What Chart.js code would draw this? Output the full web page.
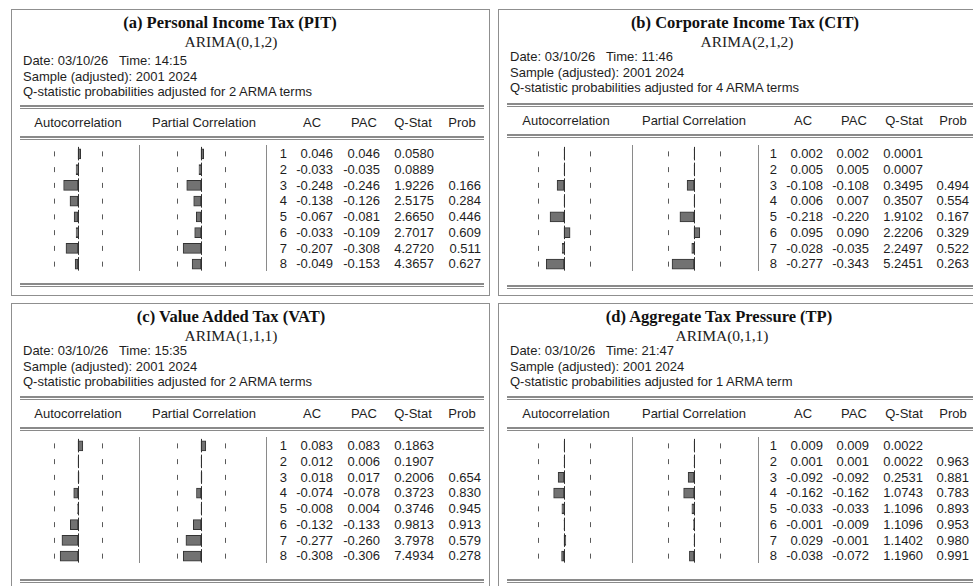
<!DOCTYPE html>
<html>
<head>
<meta charset="utf-8">
<script src="https://cdn.jsdelivr.net/npm/chart.js@4.4.1/dist/chart.umd.min.js"></script>
<style>
  body { margin: 0; background: #fff; width: 973px; height: 586px; overflow: hidden; position: relative;
         font-family: "Liberation Sans", Arial, sans-serif; color: #1e1e1e; }
  .panel { position: absolute; border: 1px solid #8f8f8f; box-sizing: border-box; overflow: hidden; }
  .t { position: absolute; line-height: 16px; height: 16px; white-space: pre; font-size: 13px; }
  .title { font-family: "Liberation Serif", "Times New Roman", serif; font-weight: bold; font-size: 16.5px; color: #111; }
  .model { font-family: "Liberation Serif", "Times New Roman", serif; font-size: 15.5px; color: #222; }
  .dbl { position: absolute; height: 1px; border-top: 2px solid #8a8a8a; border-bottom: 1px solid #8a8a8a; }
  .sep { position: absolute; width: 1px; background: #8a8a8a; }
  canvas { position: absolute; }
</style>
</head>
<body>
<script>
// lags shown in each correlogram
var lags = [1, 2, 3, 4, 5, 6, 7, 8];
var nObs = 24;

// (a) PIT
var pitAC = [0.046, -0.033, -0.248, -0.138, -0.067, -0.033, -0.207, -0.049];
var pitPAC = [0.046, -0.035, -0.246, -0.126, -0.081, -0.109, -0.308, -0.153];
var pitQ = [0.0580, 0.0889, 1.9226, 2.5175, 2.6650, 2.7017, 4.2720, 4.3657];
var pitProb = [null, null, 0.166, 0.284, 0.446, 0.609, 0.511, 0.627];

// (b) CIT
var citAC = [0.002, 0.005, -0.108, 0.006, -0.218, 0.095, -0.028, -0.277];
var citPAC = [0.002, 0.005, -0.108, 0.007, -0.220, 0.090, -0.035, -0.343];
var citQ = [0.0001, 0.0007, 0.3495, 0.3507, 1.9102, 2.2206, 2.2497, 5.2451];
var citProb = [null, null, 0.494, 0.554, 0.167, 0.329, 0.522, 0.263];

// (c) VAT
var vatAC = [0.083, 0.012, 0.018, -0.074, -0.008, -0.132, -0.277, -0.308];
var vatPAC = [0.083, 0.006, 0.017, -0.078, 0.004, -0.133, -0.260, -0.306];
var vatQ = [0.1863, 0.1907, 0.2006, 0.3723, 0.3746, 0.9813, 3.7978, 7.4934];
var vatProb = [null, null, 0.654, 0.830, 0.945, 0.913, 0.579, 0.278];

// (d) TP
var tpAC = [0.009, 0.001, -0.092, -0.162, -0.033, -0.001, 0.029, -0.038];
var tpPAC = [0.009, 0.001, -0.092, -0.162, -0.033, -0.009, -0.001, -0.072];
var tpQ = [0.0022, 0.0022, 0.2531, 1.0743, 1.1096, 1.1096, 1.1402, 1.1960];
var tpProb = [null, 0.963, 0.881, 0.783, 0.893, 0.953, 0.980, 0.991];

var panelTitles = ['(a) Personal Income Tax (PIT)', '(b) Corporate Income Tax (CIT)',
                   '(c) Value Added Tax (VAT)', '(d) Aggregate Tax Pressure (TP)'];
var models = ['ARIMA(0,1,2)', 'ARIMA(2,1,2)', 'ARIMA(1,1,1)', 'ARIMA(0,1,1)'];
var runDate = '03/10/26';
var runTimes = ['14:15', '11:46', '15:35', '21:47'];
var sampleRange = '2001 2024';
var armaTerms = [2, 4, 2, 1];
var headers = ['Autocorrelation', 'Partial Correlation', 'AC', 'PAC', 'Q-Stat', 'Prob'];

var series = [
  [pitAC, pitPAC, pitQ, pitProb],
  [citAC, citPAC, citQ, citProb],
  [vatAC, vatPAC, vatQ, vatProb],
  [tpAC, tpPAC, tpQ, tpProb]
];

// column layout (px from panel's left edge)
var colLeft = { zeroAC: 66, zeroPAC: 189, scale: 58, seps: [127, 254], lagR: 275, acR: 321, pacR: 368, qR: 422, probR: 469,
                hdr: [66, 192, 300, 352, 401, 450], lineEnd: 472 };
var colRight = { zeroAC: 65, zeroPAC: 195, scale: 64, seps: [133, 259], lagR: 278, acR: 324, pacR: 370, qR: 424, probR: 470,
                 hdr: [67, 195, 304, 355, 405, 454], lineEnd: 490 };

var panels = [
  { x: 11, y: 9, w: 479, h: 287, col: colLeft, titleX: 218, modelX: 219, dateY: 51, tblY: 97, rowsY: 144, endY: 275 },
  { x: 498, y: 9, w: 490, h: 287, col: colRight, titleX: 246, modelX: 248, dateY: 47, tblY: 95, rowsY: 144, endY: 277 },
  { x: 11, y: 303, w: 479, h: 300, col: colLeft, titleX: 219, modelX: 219, dateY: 47, tblY: 94, rowsY: 142, endY: 277 },
  { x: 498, y: 303, w: 490, h: 300, col: colRight, titleX: 220, modelX: 223, dateY: 47, tblY: 94, rowsY: 142, endY: 277 }
];

var rowH = 15.75;

// ±2/sqrt(T) bands, zero line per row
var bandPlugin = {
  id: 'bandLines',
  afterDatasetsDraw: function (chart, args, opts) {
    var ctx = chart.ctx;
    var xs = chart.scales.x, ys = chart.scales.y;
    var x0 = Math.round(xs.getPixelForValue(0)) + 0.5;
    var xl = Math.round(xs.getPixelForValue(-opts.bound)) + 0.5;
    var xr = Math.round(xs.getPixelForValue(opts.bound)) + 0.5;
    ctx.save();
    ctx.lineWidth = 1;
    chart.data.labels.forEach(function (lab, i) {
      var y = ys.getPixelForValue(i);
      ctx.strokeStyle = '#303030';
      ctx.beginPath(); ctx.moveTo(x0, y - 7); ctx.lineTo(x0, y + 6.5); ctx.stroke();
      ctx.strokeStyle = '#5a5a5a';
      ctx.beginPath();
      ctx.moveTo(xl, y - 2.5); ctx.lineTo(xl, y + 2.5);
      ctx.moveTo(xr, y - 2.5); ctx.lineTo(xr, y + 2.5);
      ctx.stroke();
    });
    ctx.restore();
  }
};

function addText(parent, txt, x, y, align, cls) {
  var d = document.createElement('div');
  d.className = 't' + (cls ? ' ' + cls : '');
  d.textContent = txt;
  if (align === 'center') { d.style.left = (x - 200) + 'px'; d.style.width = '400px'; d.style.textAlign = 'center'; }
  else if (align === 'right') { d.style.left = (x - 200) + 'px'; d.style.width = '200px'; d.style.textAlign = 'right'; }
  else { d.style.left = x + 'px'; }
  d.style.top = (y - 8) + 'px';
  parent.appendChild(d);
}

function addDouble(parent, x1, x2, y) {
  var d = document.createElement('div');
  d.className = 'dbl';
  d.style.left = x1 + 'px'; d.style.width = (x2 - x1) + 'px'; d.style.top = (y - 2) + 'px';
  parent.appendChild(d);
}

function addSep(parent, x, y1, y2) {
  var d = document.createElement('div');
  d.className = 'sep';
  d.style.left = x + 'px'; d.style.top = y1 + 'px'; d.style.height = (y2 - y1) + 'px';
  parent.appendChild(d);
}

function drawBars(p, values, zero) {
  var c = p.col;
  var cv = document.createElement('canvas');
  var w = c.scale, h = Math.round(rowH * lags.length);
  cv.width = w; cv.height = h;
  cv.style.left = (p.x + 1 + zero - w / 2) + 'px';
  cv.style.top = Math.round(p.y + 1 + p.rowsY - rowH / 2) + 'px';
  cv.style.width = w + 'px'; cv.style.height = h + 'px';
  document.body.appendChild(cv);
  new Chart(cv, {
    type: 'bar',
    data: {
      labels: lags,
      datasets: [{
        data: values,
        backgroundColor: '#727272',
        borderColor: '#333333',
        borderWidth: 1,
        borderSkipped: false,
        barThickness: 10
      }]
    },
    options: {
      indexAxis: 'y',
      responsive: false,
      animation: false,
      events: [],
      layout: { padding: 0 },
      plugins: {
        legend: { display: false },
        tooltip: { enabled: false },
        bandLines: { bound: 2 / Math.sqrt(nObs) }
      },
      scales: {
        x: { display: false, min: -0.5, max: 0.5 },
        y: { display: false, offset: true }
      }
    },
    plugins: [bandPlugin]
  });
}

panels.forEach(function (p, k) {
  var c = p.col;
  var box = document.createElement('div');
  box.className = 'panel';
  box.style.left = p.x + 'px'; box.style.top = p.y + 'px';
  box.style.width = p.w + 'px'; box.style.height = p.h + 'px';
  document.body.appendChild(box);

  addText(box, panelTitles[k], p.titleX, 13, 'center', 'title');
  addText(box, models[k], p.modelX, 31.5, 'center', 'model');
  addText(box, 'Date: ' + runDate + '   Time: ' + runTimes[k], 11, p.dateY, 'left');
  addText(box, 'Sample (adjusted): ' + sampleRange, 11, p.dateY + 15.5, 'left');
  addText(box, 'Q-statistic probabilities adjusted for ' + armaTerms[k] + ' ARMA term' + (armaTerms[k] > 1 ? 's' : ''),
          11, p.dateY + 31, 'left');

  addDouble(box, 8, c.lineEnd, p.tblY);
  headers.forEach(function (h, j) { addText(box, h, c.hdr[j], p.tblY + 16, 'center'); });
  addDouble(box, 8, c.lineEnd, p.tblY + 31);

  var top = p.rowsY - 9, bot = p.rowsY + rowH * 7 + 7;
  addSep(box, c.seps[0], top, bot);
  addSep(box, c.seps[1], top, bot);

  var s = series[k];
  lags.forEach(function (lag, i) {
    var y = p.rowsY + i * rowH;
    addText(box, String(lag), c.lagR, y, 'right');
    addText(box, s[0][i].toFixed(3), c.acR, y, 'right');
    addText(box, s[1][i].toFixed(3), c.pacR, y, 'right');
    addText(box, s[2][i].toFixed(4), c.qR, y, 'right');
    if (s[3][i] !== null) addText(box, s[3][i].toFixed(3), c.probR, y, 'right');
  });

  addDouble(box, 8, c.lineEnd, p.endY);

  drawBars(p, s[0], c.zeroAC);
  drawBars(p, s[1], c.zeroPAC);
});
</script>
</body>
</html>
